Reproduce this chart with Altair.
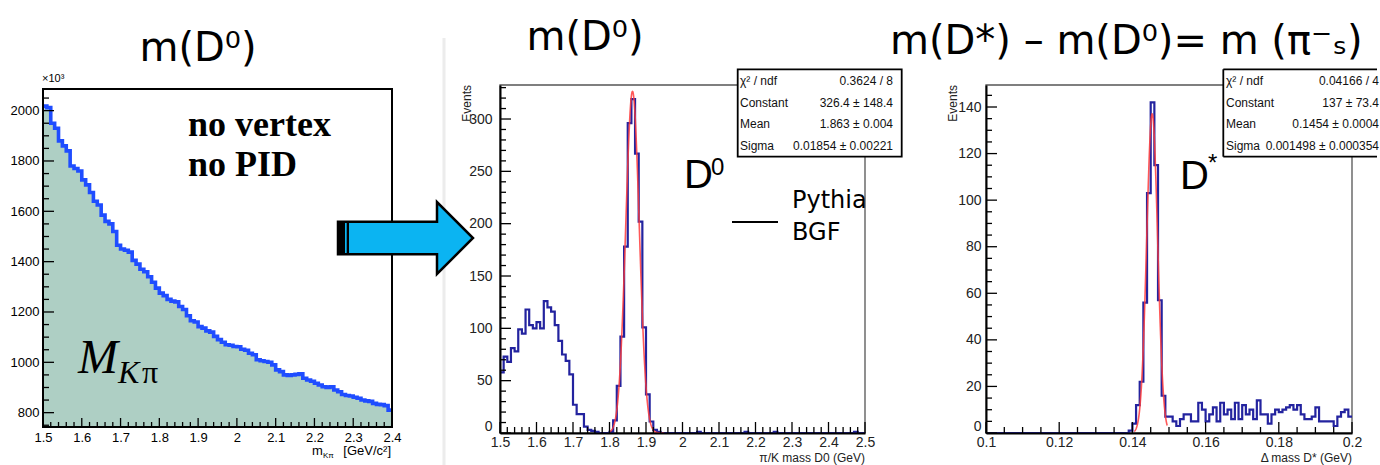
import altair as alt
import numpy as np
import pandas as pd

# ---------------------------------------------------------------- data
# m(K pi) without vertex cut and PID: entries per 0.01 GeV/c^2 bin (x 10^3)
MKPI_START, MKPI_STEP = 1.5, 0.01
MKPI_COUNTS = [2018, 2012, 1950, 1930, 1880, 1860, 1840, 1780, 1770, 1760,
               1725, 1705, 1675, 1640, 1625, 1585, 1560, 1550, 1520, 1465,
               1450, 1445, 1438, 1405, 1390, 1370, 1360, 1340, 1318, 1295,
               1275, 1265, 1250, 1243, 1240, 1222, 1210, 1185, 1165, 1160,
               1142, 1136, 1125, 1120, 1103, 1090, 1080, 1070, 1068, 1063,
               1062, 1052, 1048, 1036, 1030, 1010, 1006, 1003, 1000, 990,
               970, 963, 950, 948, 950, 952, 954, 937, 930, 925,
               917, 910, 903, 900, 903, 890, 883, 872, 868, 866,
               861, 857, 850, 847, 845, 837, 833, 832, 828, 810]

# pi/K mass D0 (Pythia BGF): events per 0.01 GeV bin
D0_START, D0_STEP = 1.5, 0.01
D0_COUNTS = [58, 73, 68, 81, 78, 99, 95, 118, 103, 100,
             106, 100, 126, 120, 116, 103, 88, 75, 69, 56,
             27, 18, 18, 6, 3, 2, 1, 0, 0, 0,
             1, 12, 45, 92, 178, 296, 319, 267, 202, 101,
             37, 11, 3, 1, 0, 0, 0, 0, 0, 0,
             0, 0, 0, 0, 1, 0, 0, 0, 0, 0,
             0, 0, 0, 0, 0, 0, 0, 1, 0, 0,
             0, 0, 0, 0, 0, 1, 0, 0, 0, 0,
             0, 0, 0, 0, 0, 0, 0, 0, 0, 0,
             0, 0, 0, 0, 0, 0, 0, 1, 0, 0]

# Delta mass D*: events per 0.001 GeV bin
DST_START, DST_STEP = 0.1, 0.001
DST_COUNTS = [0, 0, 0, 0, 0, 0, 0, 0, 0, 0,
              0, 0, 0, 0, 0, 0, 0, 0, 0, 0,
              0, 0, 0, 0, 0, 0, 0, 0, 0, 0,
              0, 0, 0, 0, 0, 0, 0, 0, 0, 1,
              4, 12, 22, 56, 103, 142, 115, 57, 16, 7,
              7, 5, 3, 6, 8, 8, 5, 5, 13, 10,
              5, 8, 11, 5, 13, 8, 10, 6, 13, 6,
              12, 8, 10, 6, 14, 8, 8, 4, 8, 10,
              9, 10, 11, 12, 10, 12, 8, 6, 6, 7,
              11, 5, 5, 5, 5, 3, 7, 9, 10, 7]

# Gaussian fit results and fit ranges
D0_FIT = {"constant": 326.4, "mean": 1.863, "sigma": 0.01854, "lo": 1.80, "hi": 1.95}
DST_FIT = {"constant": 137.0, "mean": 0.1454, "sigma": 0.001498, "lo": 0.1405, "hi": 0.1495}

D0_STATS = [("χ² / ndf", "0.3624 / 8"), ("Constant", "326.4 ± 148.4"),
            ("Mean", "1.863 ± 0.004"), ("Sigma", "0.01854 ± 0.00221")]
DST_STATS = [("χ² / ndf", "0.04166 / 4"), ("Constant", "137 ± 73.4"),
             ("Mean", "0.1454 ± 0.0004"), ("Sigma", "0.001498 ± 0.000354")]

MKPI_XTICKS = [1.5, 1.6, 1.7, 1.8, 1.9, 2.0, 2.1, 2.2, 2.3, 2.4]
MKPI_YTICKS = [800, 1000, 1200, 1400, 1600, 1800, 2000]
D0_XTICKS = [1.5, 1.6, 1.7, 1.8, 1.9, 2.0, 2.1, 2.2, 2.3, 2.4, 2.5]
D0_YTICKS = [0, 50, 100, 150, 200, 250, 300]
DST_XTICKS = [0.1, 0.12, 0.14, 0.16, 0.18, 0.2]
DST_YTICKS = [0, 20, 40, 60, 80, 100, 120, 140]

# ---------------------------------------------------------------- style
SLIDE = "DejaVu Sans"
ROOTF = "Liberation Sans"
NARROW = "Liberation Sans Narrow, Liberation Sans"
SERIF = "Liberation Serif"
HIST_BLUE = "#23239f"
FIT_RED = "#ff3b3b"
ARROW_BLUE = "#0bb4f2"

ONE = pd.DataFrame({"k": [0]})


def minor(lo, hi, step, majors):
    out, k = [], 0
    while True:
        v = round(lo + k * step, 6)
        if v > hi + 1e-9:
            break
        if all(abs(v - m) > 1e-9 for m in majors):
            out.append(v)
        k += 1
    return out


def steps(start, step, counts):
    edges = [round(start + i * step, 6) for i in range(len(counts) + 1)]
    return pd.DataFrame({"x": edges, "n": list(counts) + [counts[-1]]})


def gauss(fit):
    xs = np.linspace(fit["lo"], fit["hi"], 241)
    ys = fit["constant"] * np.exp(-0.5 * ((xs - fit["mean"]) / fit["sigma"]) ** 2)
    return pd.DataFrame({"x": xs, "n": ys})


def txt(s, x, y, size, font, align="left", baseline="alphabetic", weight="normal",
        style="normal", color="black", angle=0):
    mk = dict(text=s, align=align, baseline=baseline, fontSize=size, font=font,
              fontWeight=weight, fontStyle=style, color=color)
    if angle:
        mk["angle"] = angle
    return alt.Chart(ONE).mark_text(**mk).encode(x=alt.value(x), y=alt.value(y))


def seg(x, x2, y, y2, color="black", width=1.5, opacity=1.0):
    return alt.Chart(ONE).mark_rule(color=color, strokeWidth=width, strokeOpacity=opacity).encode(
        x=alt.value(x), x2=alt.value(x2), y=alt.value(y), y2=alt.value(y2))


def box(x, x2, y, y2, fill=None, stroke=None, width=1.5):
    kw = {}
    if fill is not None:
        kw["fill"] = fill
    else:
        kw["filled"] = False
    if stroke is not None:
        kw["stroke"] = stroke
        kw["strokeWidth"] = width
    return alt.Chart(ONE).mark_rect(**kw).encode(
        x=alt.value(x), x2=alt.value(x2), y=alt.value(y), y2=alt.value(y2))


def xticks(vals, enc_x, h, length, width=1.3):
    return alt.Chart(pd.DataFrame({"x": vals})).mark_rule(color="black", strokeWidth=width).encode(
        x=enc_x, y=alt.value(h), y2=alt.value(h - length))


def yticks(vals, enc_y, length, width=1.3):
    return alt.Chart(pd.DataFrame({"n": vals})).mark_rule(color="black", strokeWidth=width).encode(
        y=enc_y, x=alt.value(0), x2=alt.value(length))


def stat_rows(rows, xl, xr, ys, size):
    out = []
    for (lab, val), yy in zip(rows, ys):
        out.append(txt(lab, xl, yy, size, ROOTF, color="#111"))
        out.append(txt(val, xr, yy, size, ROOTF, align="right", color="#111"))
    return out


# ---------------------------------------------------------------- left: m(K pi)
W1, H1, TOP1 = 349, 342, 4
Y1_MIN, Y1_MAX = 743, 2086
X1 = alt.X("x:Q", title=None,
           scale=alt.Scale(domain=[1.5, 2.4], nice=False, zero=False),
           axis=alt.Axis(values=MKPI_XTICKS, format=".1~f", grid=False, ticks=False, domain=False,
                         labelFont=ROOTF, labelFontSize=13, labelPadding=4, labelColor="black",
                         labelFlush=False, labelOverlap=False, zindex=1))
Y1 = alt.Y("n:Q", title=None,
           scale=alt.Scale(domain=[Y1_MIN, Y1_MAX], range=[H1, TOP1], nice=False, zero=False),
           axis=alt.Axis(values=MKPI_YTICKS, format="d", grid=False, ticks=False, domain=False,
                         labelFont=ROOTF, labelFontSize=13, labelPadding=4, labelColor="black",
                         labelFlush=False, labelOverlap=False, zindex=1))

mkpi = steps(MKPI_START, MKPI_STEP, MKPI_COUNTS)
left = alt.layer(
    alt.Chart(mkpi).mark_area(interpolate="step-after", color="#aecfc4").encode(
        x=X1, y=Y1, y2=alt.datum(Y1_MIN)),
    alt.Chart(mkpi).mark_line(interpolate="step-after", color="#1f4dff", strokeWidth=3.6).encode(
        x=X1, y=Y1),
    xticks(MKPI_XTICKS, X1, H1, 9),
    xticks(minor(1.5, 2.4, 0.02, MKPI_XTICKS), X1, H1, 5),
    yticks(MKPI_YTICKS, Y1, 11),
    yticks(minor(750, 2050, 50, MKPI_YTICKS), Y1, 6),
    box(0, W1, TOP1, H1, stroke="black", width=2),
    txt("×10³", -1, -3, 11, ROOTF),
    txt("m(D⁰)", 155, -24, 40, SLIDE, align="center"),
    txt("no vertex", 145, 51, 36, SERIF, weight="bold"),
    txt("no PID", 145, 91, 36, SERIF, weight="bold"),
    txt("M", 35, 288, 48, SERIF, style="italic"),
    txt("K", 75, 298, 32, SERIF, style="italic"),
    txt("π", 99, 298, 32, SERIF),
    txt("m", 269, 370, 13, ROOTF),
    txt("Kπ", 280, 373, 8, ROOTF),
    txt("[GeV/c²]", 348, 370, 13, ROOTF, align="right"),
    seg(-43, -43, -85, -84, color="white", width=1, opacity=0),
).properties(width=W1, height=H1)


# ---------------------------------------------------------------- middle / right helpers
def hist_axes(dom_x, range_x, xvals, xfmt, dom_y, yvals, ylab_pad):
    ex = alt.X("x:Q", title=None,
               scale=alt.Scale(domain=dom_x, range=range_x, nice=False, zero=False),
               axis=alt.Axis(values=xvals, format=xfmt, grid=False, ticks=False, domain=True,
                             domainColor="black", domainWidth=2, zindex=1,
                             labelFont=NARROW, labelFontSize=14, labelPadding=2, labelColor="#222",
                             labelFlush=False, labelOverlap=False))
    ey = alt.Y("n:Q", title=None,
               scale=alt.Scale(domain=dom_y, nice=False, zero=False),
               axis=alt.Axis(values=yvals, format="d", grid=False, ticks=False, domain=True,
                             domainColor="black", domainWidth=2, zindex=1,
                             labelFont=NARROW, labelFontSize=14, labelPadding=ylab_pad, labelColor="#222",
                             labelBaseline=alt.condition("datum.value == 0", alt.value("bottom"),
                                                         alt.value("middle")),
                             labelFlush=False, labelOverlap=False))
    return ex, ey


ARROW = ("M -1 -0.2415 L 0.4667 -0.2415 L 0.4667 -0.533 L 1 0 "
         "L 0.4667 0.533 L 0.4667 0.2415 L -1 0.2415 Z")

# ---------------------------------------------------------------- middle: D0
W2, PW2, H2 = 378, 365, 348
X2, Y2 = hist_axes([1.5, 2.5], [0, PW2], D0_XTICKS, ".1~f", [0, 332.5], D0_YTICKS, 8)
d0 = steps(D0_START, D0_STEP, D0_COUNTS)
ROW_Y = [0, 21.5, 43, 64.5]

middle = alt.layer(
    seg(-56, -56, -47, 380, color="#ececec", width=3),
    box(0, PW2, 0, H2, stroke="#555", width=1.3),
    alt.Chart(d0).mark_line(interpolate="step-after", color=HIST_BLUE, strokeWidth=2.2).encode(x=X2, y=Y2),
    alt.Chart(gauss(D0_FIT)).mark_line(color=FIT_RED, strokeWidth=1.6, opacity=0.85).encode(x=X2, y=Y2),
    xticks(D0_XTICKS, X2, H2, 11),
    xticks(minor(1.5, 2.5, 0.02, D0_XTICKS), X2, H2, 6),
    yticks(D0_YTICKS, Y2, 11),
    yticks(minor(0, 330, 10, D0_YTICKS), Y2, 6),
    alt.Chart(ONE).mark_point(shape=ARROW, size=18225, filled=True, fill=ARROW_BLUE, stroke="black",
                              strokeWidth=2.5, opacity=1).encode(x=alt.value(-94.5), y=alt.value(153)),
    box(-161.7, -155, 136.7, 169.3, fill="black"),
    box(-153.3, -151, 136.7, 169.3, fill="black"),
    txt("m(D⁰)", 85, -35, 40, SLIDE, align="center"),
    txt("D", 184, 103, 40, NARROW),
    txt("0", 211, 90, 24, NARROW),
    seg(232, 278, 137, 137, width=2),
    txt("Pythia", 292, 123, 24, SLIDE),
    txt("BGF", 292, 155, 24, SLIDE),
    box(237.7, 401.7, -15.7, 71.7, fill="white", stroke="black", width=1.8),
    *stat_rows(D0_STATS, 240, 393, ROW_Y, 12),
    txt("Events", -33, 0, 12, NARROW, align="right", baseline="middle", angle=270, color="#222"),
    txt("π/K mass D0 (GeV)", PW2, 377, 12, ROOTF, align="right", color="#222"),
).properties(width=W2, height=H2)

# ---------------------------------------------------------------- right: D* - D0
W3, H3 = 366, 348
X3, Y3 = hist_axes([0.1, 0.2], [0, W3], DST_XTICKS, ".2~f", [0, 149.45], DST_YTICKS, 5)
dst = steps(DST_START, DST_STEP, DST_COUNTS)

right = alt.layer(
    box(0, W3, 0, H3, stroke="#555", width=1.3),
    alt.Chart(dst).mark_line(interpolate="step-after", color=HIST_BLUE, strokeWidth=2.2).encode(x=X3, y=Y3),
    alt.Chart(gauss(DST_FIT)).mark_line(color=FIT_RED, strokeWidth=1.6, opacity=0.85).encode(x=X3, y=Y3),
    xticks(DST_XTICKS, X3, H3, 11),
    xticks(minor(0.1, 0.2, 0.005, DST_XTICKS), X3, H3, 6),
    yticks(DST_YTICKS, Y3, 11),
    yticks(minor(0, 145, 5, DST_YTICKS), Y3, 6),
    txt("m(D*) – m(D⁰)= m (π⁻ₛ)", -96, -31, 40, SLIDE),
    txt("D", 194, 104, 40, NARROW),
    txt("*", 222, 86, 24, NARROW),
    box(237.3, 394, -15.7, 71.7, fill="white"),
    seg(237.3, 391, -15.7, -15.7, width=1.8),
    seg(237.3, 391, 71.7, 71.7, width=1.8),
    seg(237.3, 237.3, -15.7, 71.7, width=1.8),
    *stat_rows(DST_STATS, 240, 393, ROW_Y, 12),
    txt("Events", -33, 0, 12, NARROW, align="right", baseline="middle", angle=270, color="#222"),
    txt("Δ mass D* (GeV)", W3, 377, 12, ROOTF, align="right", color="#222"),
    seg(394, 394, 379, 380, color="white", width=1, opacity=0),
).properties(width=W3, height=H3)

chart = alt.hconcat(left, middle, right, spacing=108, bounds="flush").properties(
    padding={"left": 0, "top": 0, "right": 0, "bottom": 0},
    background="white",
).configure_view(stroke=None)

chart.save("out.html", embed_options={"renderer": "svg", "actions": False})
